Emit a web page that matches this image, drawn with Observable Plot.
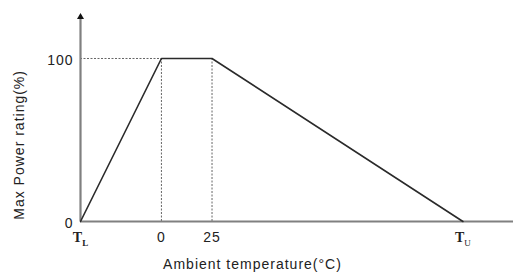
<!DOCTYPE html>
<html>
<head>
<meta charset="utf-8">
<script src="https://cdn.jsdelivr.net/npm/d3@7"></script>
<script src="https://cdn.jsdelivr.net/npm/@observablehq/plot@0.6"></script>
<style>
  html, body { margin: 0; padding: 0; background: #fff; }
  svg { display: block; }
</style>
</head>
<body>
<div id="chart"></div>
<script>
// Derating curve (schematic temperature axis)
const temps = [-40, 0, 25, 149];          // T_L, 0, 25, T_U
const rating = [0, 100, 100, 0];           // Max power rating (%)
const xTicks = [-40, 0, 25, 149];
const xTickLabels = ["T_L", "0", "25", "T_U"];
const yTicks = [0, 100];
const guideX = [0, 25];
const xLabel = "Ambient temperature(°C)";
const yLabel = "Max Power rating(%)";

const curve = temps.map((t, i) => ({t, r: rating[i]}));
const labelMap = new Map(xTicks.map((t, i) => [t, xTickLabels[i]]));

const svg = Plot.plot({
  width: 513,
  height: 272,
  marginLeft: 80,
  marginRight: 0,
  marginTop: 13,
  marginBottom: 51,
  style: {fontFamily: "Liberation Sans, Arial, sans-serif", fontSize: "14px", color: "#222", background: "#fff", letterSpacing: "1px"},
  x: {domain: [-40, 174]},
  y: {domain: [0, 127.6]},
  marks: [
    // dotted guides
    Plot.ruleY([100], {x1: -40, x2: 0, stroke: "#666", strokeWidth: 1, strokeDasharray: "2,1.5"}),
    Plot.ruleX(guideX, {y1: 0, y2: 100, stroke: "#666", strokeWidth: 1, strokeDasharray: "2,1.5"}),
    // axes lines
    Plot.ruleY([0], {stroke: "#808080", strokeWidth: 2.2}),
    Plot.ruleX([-40], {y1: 0, y2: 126, stroke: "#808080", strokeWidth: 2.2}),
    Plot.dot([{t: -40, r: 125.5}], {x: "t", y: "r", symbol: "triangle", r: 2.6, fill: "#111", stroke: "none"}),
    // curve
    Plot.line(curve, {x: "t", y: "r", stroke: "#2a2a2a", strokeWidth: 1.6}),
    // axes
    Plot.axisX({ticks: xTicks, tickFormat: d => labelMap.get(d), tickSize: 0, tickPadding: 11, fontSize: 14, label: null}),
    Plot.axisY({ticks: yTicks, tickSize: 0, tickPadding: 7, fontSize: 14, dy: 2, label: null}),
    // axis titles
    Plot.text([xLabel], {x: [45], frameAnchor: "bottom", dy: 43, fontSize: 14, lineAnchor: "middle", textAnchor: "middle", fill: "#222", text: d => d}),
    Plot.text([yLabel], {y: [47], frameAnchor: "left", dx: -61, rotate: -90, textAnchor: "middle", lineAnchor: "middle", fontSize: 14, fill: "#222", text: d => d})
  ]
});

// subscripts for T_L and T_U
d3.select(svg).selectAll("text").each(function() {
  const el = d3.select(this);
  const s = el.text();
  if (s === "T_L" || s === "T_U") {
    el.text("");
    el.attr("font-family", "Liberation Serif, Times New Roman, serif").style("letter-spacing", "0px");
    el.append("tspan").attr("font-weight", "bold").attr("font-size", 14).text("T");
    el.append("tspan").attr("font-size", 9).attr("dy", "0.35em").attr("font-weight", s === "T_L" ? "bold" : "normal").text(s.slice(2));
  }
});

document.getElementById("chart").appendChild(svg);
</script>
</body>
</html>
